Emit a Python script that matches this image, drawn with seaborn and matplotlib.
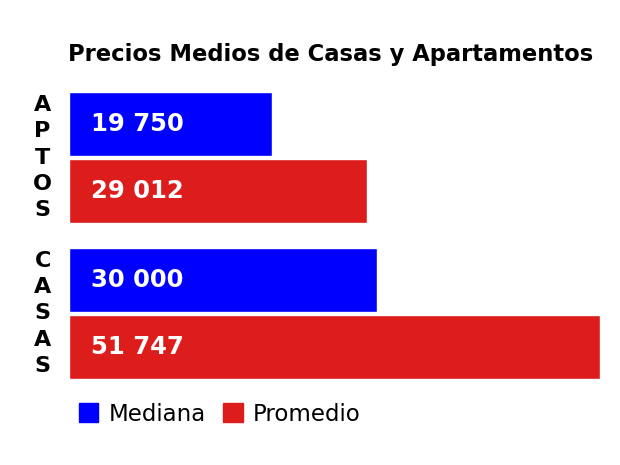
import pandas as pd
import matplotlib
matplotlib.use("Agg")
import matplotlib.pyplot as plt
import seaborn as sns

categorias = ["APTOS", "CASAS"]
series = ["Mediana", "Promedio"]
mediana = [19750, 30000]
promedio = [29012, 51747]
colores = ["#0000ff", "#dd1c1c"]

df = pd.DataFrame({
    "tipo": categorias * 2,
    "medida": [series[0]] * 2 + [series[1]] * 2,
    "valor": mediana + promedio,
})

sns.set_style("white")
plt.rcParams["font.family"] = ["DejaVu Sans"]
plt.rcParams["text.color"] = "black"
plt.rcParams["ytick.color"] = "black"

fig = plt.figure(figsize=(6.2, 4.65), dpi=100)
ax = fig.add_axes([69 / 620, 1 - 379 / 465, 531 / 620, 287 / 465])

sns.barplot(data=df, y="tipo", x="valor", hue="medida", orient="h",
            palette=colores, order=categorias, hue_order=series,
            width=0.86, gap=0.05, saturation=1, ax=ax, legend=False)

ax.set_xlim(0, max(promedio))
ax.set_ylim(1.42, -0.42)
ax.set_xticks([])
ax.set_xlabel("")
ax.set_ylabel("")
ax.set_yticks(range(len(categorias)))
ax.set_yticklabels(["\n".join(c) for c in categorias], fontsize=16,
                   fontweight="bold", ha="center", va="center", linespacing=1.4)
ax.tick_params(axis="y", length=0, pad=19)
sns.despine(ax=ax, left=True, bottom=True, top=True, right=True)

for p in ax.patches:
    w = p.get_width()
    if w <= 0:
        continue
    yc = p.get_y() + p.get_height() / 2
    txt = f"{int(w):,}".replace(",", " ")
    ax.annotate(txt, xy=(0, yc), xytext=(16, 0), textcoords="offset points",
                ha="left", va="center", color="white", fontsize=17.5,
                fontweight="bold")

fig.suptitle("Precios Medios de Casas y Apartamentos", x=331 / 620,
             y=1 - 55 / 465, va="center", fontsize=16.3, fontweight="bold")

handles = [plt.Rectangle((0, 0), 1, 1, color=c) for c in colores]
fig.legend(handles, series, loc="center left", bbox_to_anchor=(79 / 620, 1 - 414 / 465),
           ncol=2, frameon=False, fontsize=16.5, handlelength=0.85, handleheight=0.85,
           handletextpad=0.45, columnspacing=0.75, borderpad=0, borderaxespad=0)

fig.savefig("out.png", dpi=100)
